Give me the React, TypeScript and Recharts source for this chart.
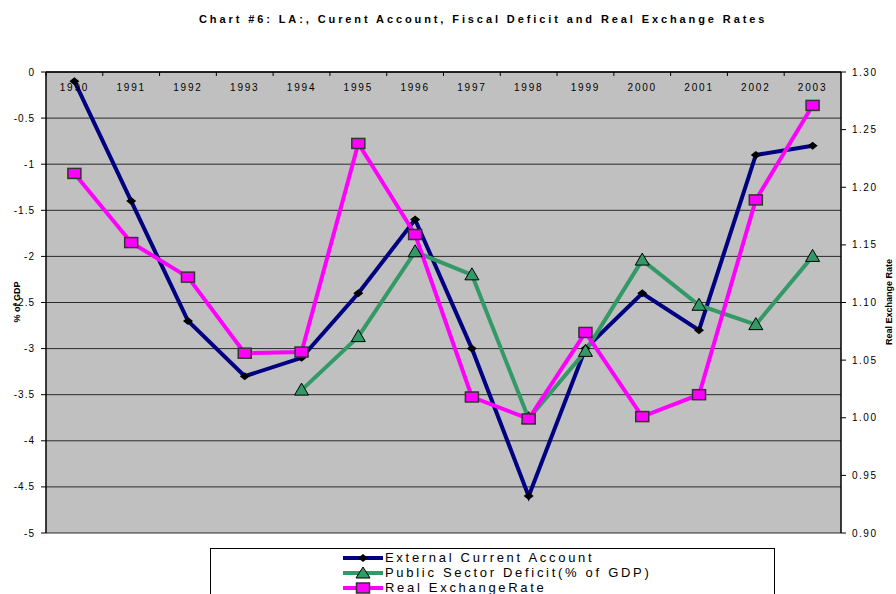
import React from 'react';
import { LineChart, Line, XAxis, YAxis, CartesianGrid } from 'recharts';

// Valores
const years = ['1990', '1991', '1992', '1993', '1994', '1995', '1996', '1997', '1998', '1999', '2000', '2001', '2002', '2003'];
const currentAccount = [-0.1, -1.4, -2.7, -3.3, -3.1, -2.4, -1.6, -3.0, -4.6, -3.0, -2.4, -2.8, -0.9, -0.8];
const publicDeficit = [null, null, null, null, -3.45, -2.87, -1.95, -2.2, -3.76, -3.03, -2.04, -2.53, -2.74, -2.0];
const realExchange = [1.212, 1.152, 1.122, 1.056, 1.057, 1.238, 1.159, 1.018, 0.999, 1.074, 1.001, 1.02, 1.189, 1.271];

const leftTicks = [0, -0.5, -1, -1.5, -2, -2.5, -3, -3.5, -4, -4.5, -5];
const rightTicks = [0.9, 0.95, 1.0, 1.05, 1.1, 1.15, 1.2, 1.25, 1.3];

const data = years.map((year, i) => ({
  year,
  currentAccount: currentAccount[i],
  publicDeficit: publicDeficit[i],
  realExchange: realExchange[i],
}));

const FONT = '"Liberation Sans", Arial, sans-serif';
const PLOT_TOP = 72;
const HALF_STEP = 28.4;

// Rótulo do eixo X: desenhado dentro da área do gráfico, logo abaixo do eixo superior
const YearTick = (props: any) => {
  const { x, payload } = props;
  return (
    <g>
      <line x1={x - HALF_STEP} x2={x - HALF_STEP} y1={PLOT_TOP} y2={PLOT_TOP + 4} stroke="#000" />
      <text x={x} y={PLOT_TOP + 19} textAnchor="middle" fontFamily={FONT} fontSize={10} letterSpacing={1.8} fill="#000">
        {payload.value}
      </text>
    </g>
  );
};

const Diamond = (props: any) => {
  const { cx, cy, index } = props;
  if (cx == null || cy == null) return <g key={index} />;
  return <polygon key={index} points={`${cx},${cy - 4} ${cx + 5},${cy} ${cx},${cy + 4} ${cx - 5},${cy}`} fill="#000" />;
};

const Triangle = (props: any) => {
  const { cx, cy, index, payload } = props;
  if (cx == null || cy == null || payload.publicDeficit == null) return <g key={index} />;
  return (
    <polygon key={index} points={`${cx},${cy - 7} ${cx + 7},${cy + 5} ${cx - 7},${cy + 5}`} fill="#339966" stroke="#000" strokeWidth={1} />
  );
};

const Square = (props: any) => {
  const { cx, cy, index } = props;
  if (cx == null || cy == null) return <g key={index} />;
  return <rect key={index} x={cx - 6.5} y={cy - 5} width={13} height={10} fill="#FF00FF" stroke="#333" strokeWidth={1.5} />;
};

const LegendIcon = ({ color, marker }: { color: string; marker: 'diamond' | 'triangle' | 'square' }) => (
  <svg width={40} height={14} style={{ display: 'block' }}>
    <line x1={0} x2={40} y1={7} y2={7} stroke={color} strokeWidth={4} />
    {marker === 'diamond' && <polygon points="20,3 25,7 20,11 15,7" fill="#000" />}
    {marker === 'triangle' && <polygon points="20,1 27,12 13,12" fill="#339966" stroke="#000" />}
    {marker === 'square' && <rect x={13.5} y={2} width={13} height={10} fill="#FF00FF" stroke="#333" strokeWidth={1.5} />}
  </svg>
);

const legendItems = [
  { label: 'External Current Account', color: '#000080', marker: 'diamond' as const },
  { label: 'Public Sector Deficit(% of GDP)', color: '#339966', marker: 'triangle' as const },
  { label: 'Real ExchangeRate', color: '#FF00FF', marker: 'square' as const },
];

export default function App() {
  return (
    <div style={{ position: 'absolute', left: 0, top: 0, width: 896, height: 594, background: '#fff', overflow: 'hidden' }}>
      <div
        style={{
          position: 'absolute',
          top: 13,
          left: 199,
          whiteSpace: 'nowrap',
          fontFamily: FONT,
          fontWeight: 'bold',
          fontSize: 11,
          letterSpacing: 2.9,
          color: '#000',
        }}
      >
        Chart #6: LA:, Curent Account, Fiscal Deficit and Real Exchange Rates
      </div>

      <LineChart width={896} height={594} data={data} margin={{ top: PLOT_TOP - 1, right: 0, bottom: 61, left: 0 }}>
        <CartesianGrid yAxisId="left" vertical={false} stroke="#2a2a2a" fill="#C0C0C0" fillOpacity={1} />
        <XAxis
          dataKey="year"
          orientation="top"
          height={1}
          tickSize={0}
          tickMargin={0}
          padding={{ left: HALF_STEP, right: HALF_STEP }}
          axisLine={{ stroke: '#000', strokeWidth: 1.5 }}
          tick={(p: any) => <YearTick {...p} />}
          interval={0}
        />
        <YAxis
          yAxisId="left"
          orientation="left"
          width={46}
          domain={[-5, 0]}
          ticks={leftTicks}
          interval={0}
          tickSize={5}
          tickMargin={6}
          axisLine={{ stroke: '#000', strokeWidth: 1.5 }}
          tickLine={{ stroke: '#000' }}
          tick={{ fontFamily: FONT, fontSize: 10, fill: '#000', letterSpacing: 1 }}
          label={() => (
            <text
              x={17}
              y={302}
              transform="rotate(-90 17 302)"
              textAnchor="middle"
              dominantBaseline="central"
              fontFamily={FONT}
              fontWeight="bold"
              fontSize={9}
              fill="#000"
            >
              % of GDP
            </text>
          )}
        />
        <YAxis
          yAxisId="right"
          orientation="right"
          width={55}
          domain={[0.9, 1.3]}
          ticks={rightTicks}
          interval={0}
          tickSize={5}
          tickMargin={6}
          tickFormatter={(v: number) => v.toFixed(2)}
          axisLine={{ stroke: '#000', strokeWidth: 1.5 }}
          tickLine={{ stroke: '#000' }}
          tick={{ fontFamily: FONT, fontSize: 10, fill: '#000', letterSpacing: 1.5 }}
          label={() => (
            <text
              x={889}
              y={302}
              transform="rotate(-90 889 302)"
              textAnchor="middle"
              dominantBaseline="central"
              fontFamily={FONT}
              fontWeight="bold"
              fontSize={9}
              fill="#000"
            >
              Real Exchange Rate
            </text>
          )}
        />
        <Line
          yAxisId="left"
          dataKey="currentAccount"
          stroke="#000080"
          strokeWidth={4}
          dot={<Diamond />}
          isAnimationActive={false}
        />
        <Line
          yAxisId="left"
          dataKey="publicDeficit"
          stroke="#339966"
          strokeWidth={4}
          dot={<Triangle />}
          isAnimationActive={false}
        />
        <Line
          yAxisId="right"
          dataKey="realExchange"
          stroke="#FF00FF"
          strokeWidth={4}
          dot={<Square />}
          isAnimationActive={false}
        />
      </LineChart>

      {/* Legenda em caixa, como no original (cortada pela borda inferior) */}
      <div
        style={{
          position: 'absolute',
          left: 210,
          top: 548,
          width: 565,
          height: 60,
          border: '1px solid #000',
          background: '#fff',
          boxSizing: 'border-box',
        }}
      >
        <div style={{ position: 'absolute', left: 132, top: 1 }}>
          {legendItems.map((item) => (
            <div key={item.label} style={{ display: 'flex', alignItems: 'center', height: 15 }}>
              <LegendIcon color={item.color} marker={item.marker} />
              <span style={{ marginLeft: 2, fontFamily: FONT, fontSize: 13, letterSpacing: 2.7, color: '#000', lineHeight: '15px' }}>
                {item.label}
              </span>
            </div>
          ))}
        </div>
      </div>
    </div>
  );
}
